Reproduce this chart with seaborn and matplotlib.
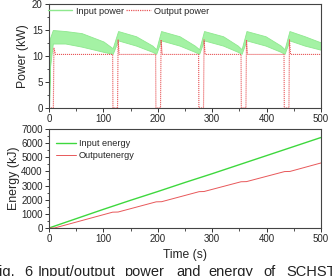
import numpy as np
import pandas as pd
import matplotlib
matplotlib.use("Agg")
import matplotlib.pyplot as plt
from matplotlib.lines import Line2D
from matplotlib.ticker import MultipleLocator
import seaborn as sns

# ---- data ----
# input power: envelope of the dense oscillation (kW)
t_in = [0, 2, 7, 30, 60, 100, 117, 127, 160, 190, 197, 206, 240, 268, 276, 285, 320, 347, 354, 363, 398, 426, 433, 442, 470, 500]
p_in_hi = [0, 13.5, 15.0, 14.8, 14.4, 12.8, 11.5, 14.8, 13.8, 12.0, 11.3, 14.8, 13.8, 12.0, 11.3, 14.8, 13.8, 12.0, 11.3, 14.8, 13.8, 12.0, 11.3, 14.8, 13.8, 12.6]
p_in_lo = [0, 8.0, 12.4, 12.4, 11.8, 10.8, 10.4, 13.0, 12.0, 10.8, 10.4, 13.0, 12.0, 10.8, 10.4, 13.0, 12.0, 10.8, 10.4, 13.0, 12.0, 10.8, 10.4, 13.0, 12.0, 11.2]
# output power (kW)
t_out = [0, 8, 9, 12, 117, 117.5, 126, 127, 129, 196, 196.5, 205, 206, 208, 275, 275.5, 284, 285, 287, 353, 353.5, 362, 363, 365, 432, 432.5, 441, 442, 444, 500]
p_out = [0, 0, 11.5, 10.3, 10.3, 0, 0, 13.1, 10.3, 10.3, 0, 0, 13.1, 10.3, 10.3, 0, 0, 13.1, 10.3, 10.3, 0, 0, 13.1, 10.3, 10.3, 0, 0, 13.1, 10.3, 10.3]
# energy (kJ)
t_ein = [0, 50, 100, 150, 200, 250, 300, 350, 400, 450, 500]
e_in = [0, 660, 1320, 1960, 2580, 3220, 3840, 4480, 5120, 5760, 6400]
t_eout = [0, 10, 117, 127, 197, 207, 276, 285, 353, 363, 433, 443, 500]
e_out = [0, 0, 1120, 1130, 1850, 1860, 2570, 2580, 3270, 3280, 3990, 4000, 4600]

labels_power = ["Input power", "Output power"]
labels_energy = ["Input energy", "Outputenergy"]
caption_words = ["Fig.", "6", "Input/output", "power", "and", "energy", "of", "SCHST."]
caption_x_px = [-9, 24, 38, 124, 176, 208, 263, 286]

sns.set_theme(style="ticks")
plt.rcParams["font.family"] = ["Liberation Sans", "DejaVu Sans"]
plt.rcParams["axes.edgecolor"] = "#333333"
plt.rcParams["axes.linewidth"] = 0.8

W, H = 332, 276
fig = plt.figure(figsize=(3.32, 2.76), dpi=100)
ax1 = fig.add_axes([0.1476, 0.6087, 0.8193, 0.3768])
ax2 = fig.add_axes([0.1476, 0.1739, 0.8193, 0.3587])

green_light = "#a4f2a4"
green_edge = "#8ee88e"
red = "#e8585a"
green = "#3ed83e"

# top: power
ax1.fill_between(t_in, p_in_lo, p_in_hi, color=green_light, lw=0.6, edgecolor=green_edge)
sns.lineplot(x=t_out, y=p_out, ax=ax1, color=red, lw=0.8, linestyle=(0, (1, 0.8)), sort=False)
ax1.set_xlim(0, 500)
ax1.set_ylim(0, 20)
ax1.set_ylabel("Power (kW)", fontsize=8.7, labelpad=2)
ax1.set_xlabel("")
ax1.xaxis.set_major_locator(MultipleLocator(100))
ax1.xaxis.set_minor_locator(MultipleLocator(50))
ax1.yaxis.set_major_locator(MultipleLocator(5))
ax1.yaxis.set_minor_locator(MultipleLocator(2.5))
h1 = [Line2D([], [], color=green_edge, lw=1.0),
      Line2D([], [], color=red, lw=0.9, linestyle=(0, (1, 0.8)))]
ax1.legend(h1, labels_power, loc="upper left", ncol=2, frameon=False, fontsize=6.6,
           handlelength=2.7, handletextpad=0.35, columnspacing=0.3,
           borderpad=0.0, borderaxespad=0.0, bbox_to_anchor=(-0.005, 0.975))

# bottom: energy
sns.lineplot(x=t_ein, y=e_in, ax=ax2, color=green, lw=1.0)
sns.lineplot(x=t_eout, y=e_out, ax=ax2, color=red, lw=0.7)
ax2.set_xlim(0, 500)
ax2.set_ylim(0, 7000)
ax2.set_ylabel("Energy (kJ)", fontsize=8.9, labelpad=1)
ax2.set_xlabel("Time (s)", fontsize=8.7, labelpad=3.5)
ax2.xaxis.set_major_locator(MultipleLocator(100))
ax2.xaxis.set_minor_locator(MultipleLocator(50))
ax2.yaxis.set_major_locator(MultipleLocator(1000))
ax2.yaxis.set_minor_locator(MultipleLocator(500))
h2 = [Line2D([], [], color=green, lw=1.0), Line2D([], [], color=red, lw=0.7)]
ax2.legend(h2, labels_energy, loc="upper left", frameon=False, fontsize=6.6,
           handlelength=2.2, handletextpad=0.3, labelspacing=0.35,
           borderpad=0.0, borderaxespad=0.0, bbox_to_anchor=(0.025, 0.9))

for ax in (ax1, ax2):
    ax.tick_params(axis="both", which="major", direction="out", length=3, width=0.7,
                   labelsize=7, pad=1.5, color="#333333")
    ax.tick_params(axis="both", which="minor", direction="out", length=1.8, width=0.6,
                   color="#333333")
    for s in ax.spines.values():
        s.set_visible(True)
        s.set_color("#444444")

for word, xp in zip(caption_words, caption_x_px):
    fig.text(xp / W, 0.0, word, fontsize=10.5, ha="left", va="baseline", color="#222222")

fig.savefig("out.png", dpi=100)
